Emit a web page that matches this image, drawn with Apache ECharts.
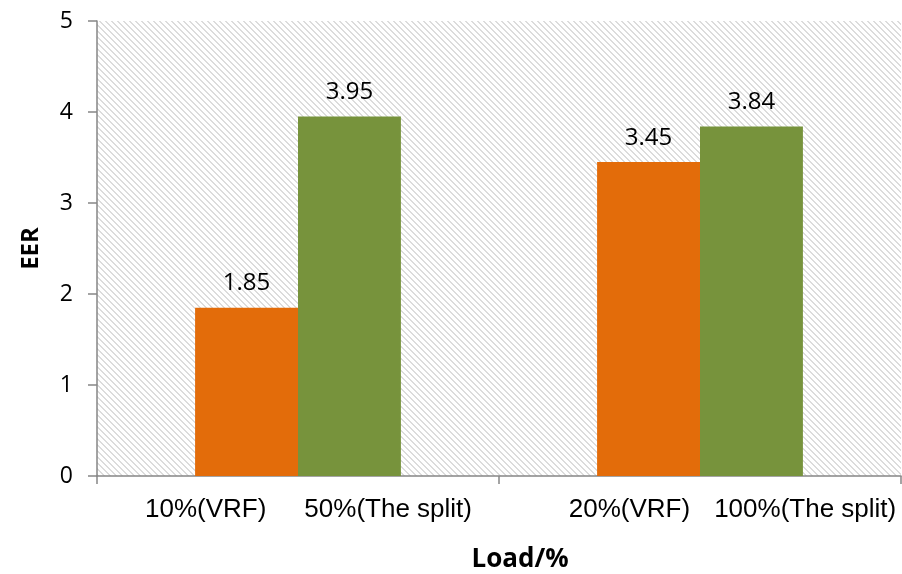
<!DOCTYPE html>
<html>
<head>
<meta charset="utf-8">
<script src="https://cdn.jsdelivr.net/npm/echarts@6/dist/echarts.min.js"></script>
<style>
  html, body { margin: 0; padding: 0; background: #fff; }
  #chart { width: 902px; height: 574px; }
</style>
</head>
<body>
<div id="chart"></div>
<script>
// Load cases and EER values
const groups = ['VRF 10% / Split 50%', 'VRF 20% / Split 100%'];
const vrfLoads = ['10%(VRF)', '20%(VRF)'];
const splitLoads = ['50%(The split)', '100%(The split)'];
const vrfEER = [1.85, 3.45];
const splitEER = [3.95, 3.84];
const yTicks = [0, 1, 2, 3, 4, 5];

// Diagonal hatch used as plot-area background
function hatchPattern() {
  const size = 6;
  const c = document.createElement('canvas');
  c.width = size; c.height = size;
  const ctx = c.getContext('2d');
  ctx.fillStyle = '#ffffff';
  ctx.fillRect(0, 0, size, size);
  ctx.fillStyle = '#dcdcdc';
  for (let y = 0; y < size; y++) {
    for (let x = 0; x < size; x++) {
      if (((x - y) % size + size) % size < 2) ctx.fillRect(x, y, 1, 1);
    }
  }
  return { image: c, repeat: 'repeat' };
}

const axisGray = '#868686';
const tickFont = { fontFamily: 'Open Sans', fontSize: 23, color: '#000' };

const chart = echarts.init(document.getElementById('chart'), null, { renderer: 'canvas' });
chart.setOption({
  animation: false,
  backgroundColor: '#fff',
  grid: {
    show: true,
    left: 97, right: 1, top: 21, bottom: 98,
    outerBoundsMode: 'none',
    containLabel: false,
    backgroundColor: hatchPattern(),
    borderWidth: 0
  },
  xAxis: {
    type: 'category',
    data: groups,
    name: 'Load/%',
    nameLocation: 'middle',
    nameGap: 71,
    nameTextStyle: { fontFamily: 'Open Sans', fontSize: 26, fontWeight: 'bold', color: '#000', padding: [0, 0, 0, 42] },
    axisLine: { lineStyle: { color: axisGray, width: 1.5 } },
    axisTick: { show: true, length: 8, interval: 0, lineStyle: { color: axisGray, width: 1.5 } },
    axisLabel: {
      interval: 0,
      margin: 21,
      formatter: (v, i) => `{lead${i}| }{t|${vrfLoads[i]}}{gap${i}| }{t|${splitLoads[i]}}`,
      rich: {
        t: { fontFamily: 'Liberation Sans', fontSize: 26, color: '#000' },
        lead0: { width: 21 },
        gap0: { width: 38 },
        lead1: { width: 65 },
        gap1: { width: 24 }
      }
    },
    splitLine: { show: false }
  },
  yAxis: {
    type: 'value',
    min: yTicks[0],
    max: yTicks[yTicks.length - 1],
    interval: 1,
    name: 'EER',
    nameLocation: 'middle',
    nameGap: 54,
    nameRotate: 90,
    nameTextStyle: { fontFamily: 'Open Sans', fontSize: 24, fontWeight: 'bold', color: '#000' },
    axisLine: { show: true, lineStyle: { color: axisGray, width: 1.5 } },
    axisTick: { show: true, length: 9, lineStyle: { color: axisGray, width: 1.5 } },
    axisLabel: { margin: 24, ...tickFont },
    splitLine: { show: false }
  },
  series: [
    {
      name: 'VRF',
      type: 'bar',
      data: vrfEER,
      barWidth: '25.6%',
      barGap: '0%',
      itemStyle: { color: '#E36C0A' },
      label: { show: true, position: 'top', distance: 12, fontFamily: 'Open Sans', fontSize: 24, color: '#000', formatter: p => p.value.toFixed(2) }
    },
    {
      name: 'The split',
      type: 'bar',
      data: splitEER,
      barWidth: '25.6%',
      barGap: '0%',
      itemStyle: { color: '#77933C' },
      label: { show: true, position: 'top', distance: 12, fontFamily: 'Open Sans', fontSize: 24, color: '#000', formatter: p => p.value.toFixed(2) }
    }
  ]
});
</script>
</body>
</html>
